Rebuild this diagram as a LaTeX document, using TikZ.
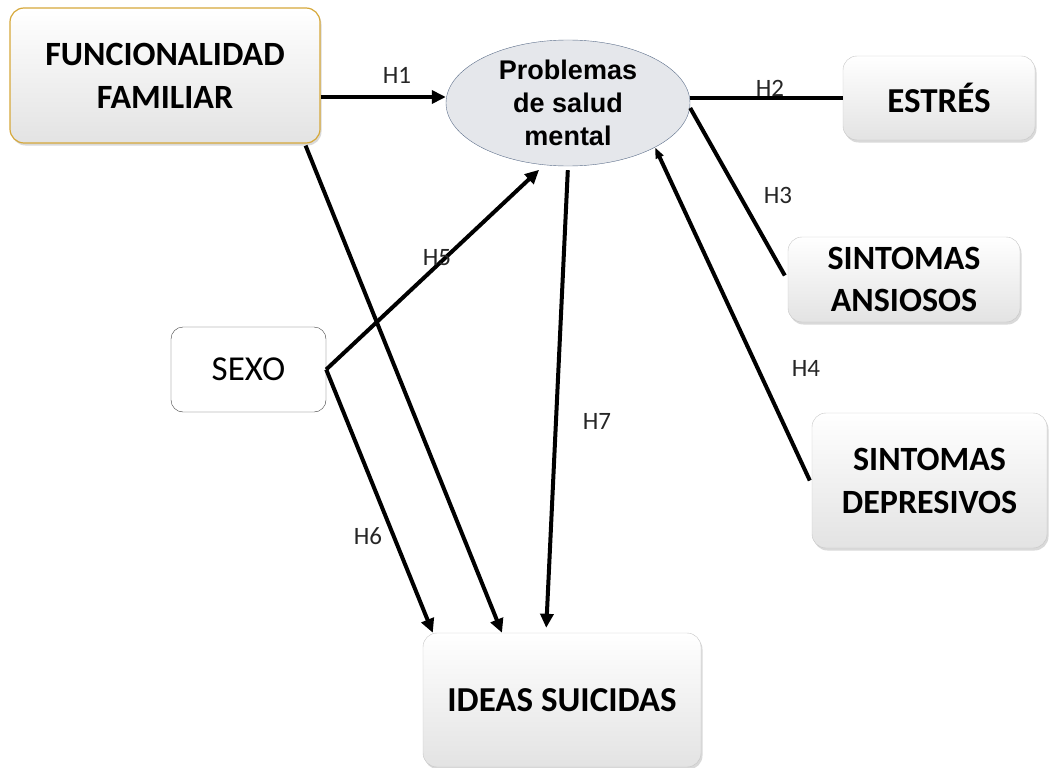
\documentclass[tikz,border=0pt]{standalone}
\usepackage{fontspec}
\setmainfont{Carlito}
\newfontfamily\arialfont{Liberation Sans}
\usepackage{xcolor}
\usepackage{tikz}
\usetikzlibrary{positioning, arrows.meta, shapes.geometric, shadows}

\definecolor{goldline}{RGB}{214,168,58}
\definecolor{ellfill}{RGB}{229,231,235}
\definecolor{elldraw}{RGB}{92,110,138}

\begin{document}
\begin{tikzpicture}[x=1pt, y=-1pt,
      arr/.style={-{Triangle[length=14pt, width=13pt]}, line width=4pt, black},
      ln/.style={line width=4pt, black},
      lbl/.style={draw=none, fill=none, font=\fontsize{25}{28}\selectfont,
          black!85, inner sep=1pt},
      boxnode/.style={rectangle, rounded corners=14pt, draw=gray!45,
          top color=white, bottom color=gray!22, align=center,
          font=\fontsize{34}{43}\selectfont\bfseries, inner sep=0pt,
          drop shadow={shadow xshift=1.5pt, shadow yshift=-2.5pt,
                       opacity=0.3, fill=gray}},
    ]
    \useasboundingbox (0,0) rectangle (1049,768);

    %% ── LEFT / TOP  ─────────────────────────────────────────────────────────
    \node[boxnode, draw=goldline, line width=1.2pt,
      minimum width=310pt, minimum height=135pt] at (165, 75.5) (func)
    {FUNCIONALIDAD\\FAMILIAR};

    \node[ellipse, draw=elldraw, fill=ellfill, align=center, inner sep=0pt,
      minimum width=244pt, minimum height=126pt,
      font=\fontsize{27}{33}\selectfont\arialfont\bfseries] at (568, 103) (ment)
    {Problemas\\de salud\\mental};

    \node[rectangle, rounded corners=12pt, draw=black!75, fill=white,
      minimum width=155pt, minimum height=85pt,
      font=\fontsize{35}{40}\selectfont] at (248.5, 369.5) (sexo)
    {SEXO};

    %% ── RIGHT COLUMN ───────────────────────────────────────────────────────
    \node[boxnode, minimum width=192pt, minimum height=84pt,
      font=\fontsize{35}{43}\selectfont\bfseries] at (939, 98) (estres)
    {ESTRÉS};
    \node[boxnode, minimum width=232pt, minimum height=85pt,
      font=\fontsize{34}{42}\selectfont\bfseries] at (904, 279.5) (ansiosos)
    {SINTOMAS\\ANSIOSOS};
    \node[boxnode, minimum width=235pt, minimum height=135pt] at (929.5, 480.5) (depresivos)
    {SINTOMAS\\DEPRESIVOS};

    %% ── BOTTOM ─────────────────────────────────────────────────────────────
    \node[boxnode, minimum width=278pt, minimum height=134pt,
      font=\fontsize{35}{43}\selectfont\bfseries] at (562, 700) (ideas)
    {IDEAS SUICIDAS};

    %% ── ARROWS ──────────────────────────────────────────────────────────────
    \draw[arr] ([yshift=-21.5pt]func.east) -- ([yshift=6pt]ment.west);
    \draw[ln]  ([yshift=5pt]ment.east)     -- (estres.west);
    \draw[ln]  ([yshift=-5pt]ment.east)    -- ([xshift=-3pt, yshift=4pt]ansiosos.west);
    \draw[-{Triangle[length=11pt, width=8pt]}, line width=4pt]
               ([xshift=-2pt]depresivos.west) -- (ment.-27);
    \draw[arr, shorten >=7pt] (sexo.east)  -- (ment.-111);
    \draw[arr] (sexo.east)                 -- ([xshift=10pt]ideas.north west);
    \draw[arr] ([xshift=-15pt, yshift=-2pt]func.south east) -- ([xshift=-60pt]ideas.north);
    \draw[arr, shorten <=4pt, shorten >=5pt] (ment.south) -- ([xshift=-16pt]ideas.north);

    %% ── LABELS ──────────────────────────────────────────────────────────────
    \node[lbl] at (397, 75)  (h1) {H1};
    \node[lbl] at (770, 88)  (h2) {H2};
    \node[lbl] at (778, 195) (h3) {H3};
    \node[lbl] at (806, 368) (h4) {H4};
    \node[lbl] at (437, 258) (h5) {H5};
    \node[lbl] at (368, 536) (h6) {H6};
    \node[lbl] at (597, 421) (h7) {H7};

  \end{tikzpicture}
\end{document}
